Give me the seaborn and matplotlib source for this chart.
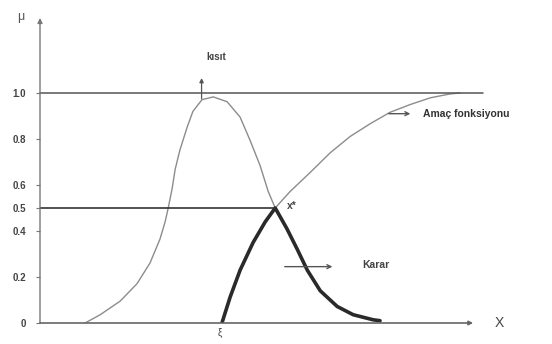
import numpy as np
import pandas as pd
import matplotlib
matplotlib.use("Agg")
import matplotlib.pyplot as plt
import seaborn as sns

# Constraint membership function (kısıt)
kisit_x = [1.04, 1.39, 1.85, 2.24, 2.54, 2.77, 2.89, 2.96, 3.05, 3.12,
           3.23, 3.40, 3.53, 3.74, 4.00, 4.32, 4.62, 4.85, 5.08, 5.27,
           5.43, 5.70, 5.94, 6.17, 6.47, 6.86, 7.23, 7.69, 7.85]
kisit_y = [0.000, 0.036, 0.095, 0.171, 0.261, 0.365, 0.441, 0.500, 0.584, 0.668,
           0.752, 0.853, 0.920, 0.971, 0.983, 0.962, 0.895, 0.794, 0.685, 0.571,
           0.500, 0.410, 0.320, 0.230, 0.140, 0.072, 0.036, 0.014, 0.010]

# Objective membership function (amaç fonksiyonu)
amac_x = [4.20, 4.39, 4.62, 4.92, 5.20, 5.43, 5.77, 6.24, 6.70, 7.16,
          7.62, 8.08, 8.55, 9.01, 9.47, 9.70]
amac_y = [0.000, 0.113, 0.230, 0.350, 0.440, 0.500, 0.571, 0.655, 0.740, 0.811,
          0.866, 0.916, 0.950, 0.979, 0.996, 1.000]

# Decision (karar) = min(kısıt, amaç): rising part of amaç up to x*,
# then the falling part of kısıt
karar_x = amac_x[:6] + kisit_x[21:]
karar_y = amac_y[:6] + kisit_y[21:]

yticks = [0, 0.2, 0.4, 0.5, 0.6, 0.8, 1.0]
ytick_labels = ["0", "0.2", "0.4", "0.5", "0.6", "0.8", "1.0"]

x_star = 5.43
xi_pos = 4.20

sns.set_theme(style="white")
plt.rcParams["font.family"] = ["Liberation Sans", "DejaVu Sans"]

fig = plt.figure(figsize=(5.52, 3.44), dpi=100)
ax = fig.add_axes([40 / 552, 21 / 344, 512 / 552, 305 / 344])
ax.set_xlim(0, 11.82)
ax.set_ylim(0, 1.326)
for s in ax.spines.values():
    s.set_visible(False)

thin = "#8c8c8c"
dark = "#2a2a2a"

df_k = pd.DataFrame({"x": kisit_x, "mu": kisit_y})
df_a = pd.DataFrame({"x": amac_x, "mu": amac_y})
df_d = pd.DataFrame({"x": karar_x, "mu": karar_y})
sns.lineplot(data=df_k, x="x", y="mu", ax=ax, color=thin, lw=1.0, sort=False)
sns.lineplot(data=df_a, x="x", y="mu", ax=ax, color=thin, lw=1.0, sort=False)
sns.lineplot(data=df_d, x="x", y="mu", ax=ax, color=dark, lw=2.6, sort=False)

# reference levels
ax.plot([0, 10.23], [1.0, 1.0], color="#555555", lw=1.1, clip_on=False)
ax.plot([0, x_star], [0.5, 0.5], color="#333333", lw=1.2)

# axes with arrows
ax.annotate("", xy=(0, 1.326), xytext=(0, 0),
            arrowprops=dict(arrowstyle="-|>", color="#777777", lw=1.0,
                            mutation_scale=7, shrinkA=0, shrinkB=0),
            annotation_clip=False)
ax.annotate("", xy=(10.0, 0), xytext=(0, 0),
            arrowprops=dict(arrowstyle="-|>", color="#666666", lw=1.2,
                            mutation_scale=6, shrinkA=0, shrinkB=0),
            annotation_clip=False)

ax.set_yticks(yticks)
ax.set_yticklabels(ytick_labels, fontsize=7, fontweight="bold", color="#444444")
ax.set_xticks([])
ax.tick_params(axis="y", direction="out", length=3, width=0.8, color="#777777",
               pad=7, left=True)
ax.set_xlabel("")
ax.set_ylabel("")

# axis titles
ax.text(-0.45, 1.33, "μ", fontsize=9, color="#555555", ha="center", va="center",
        clip_on=False)
ax.text(10.6, 0.0, "X", fontsize=10, color="#444444", ha="center", va="center")

# annotations
ax.annotate("", xy=(3.73, 1.065), xytext=(3.73, 0.975),
            arrowprops=dict(arrowstyle="-|>", color="#555555", lw=0.9,
                            mutation_scale=6, shrinkA=0, shrinkB=0))
ax.text(4.08, 1.155, "kısıt", fontsize=7, fontweight="bold", color="#444444",
        ha="center", va="center")

ax.annotate("", xy=(8.55, 0.91), xytext=(8.05, 0.91),
            arrowprops=dict(arrowstyle="->", color="#555555", lw=1.0,
                            mutation_scale=7, shrinkA=0, shrinkB=0))
ax.text(8.85, 0.91, "Amaç fonksiyonu", fontsize=7.5, fontweight="bold",
        color="#333333", ha="left", va="center", clip_on=False)

ax.annotate("", xy=(6.75, 0.245), xytext=(5.65, 0.245),
            arrowprops=dict(arrowstyle="->", color="#555555", lw=1.0,
                            mutation_scale=7, shrinkA=0, shrinkB=0))
ax.text(7.45, 0.25, "Karar", fontsize=7.5, fontweight="bold", color="#444444",
        ha="left", va="center")

ax.text(5.7, 0.51, "x*", fontsize=7.5, fontweight="bold", color="#444444",
        ha="left", va="center")
ax.text(xi_pos - 0.05, -0.045, "ξ", fontsize=7, color="#444444",
        ha="center", va="center", clip_on=False)

fig.savefig("out.png", dpi=100)
